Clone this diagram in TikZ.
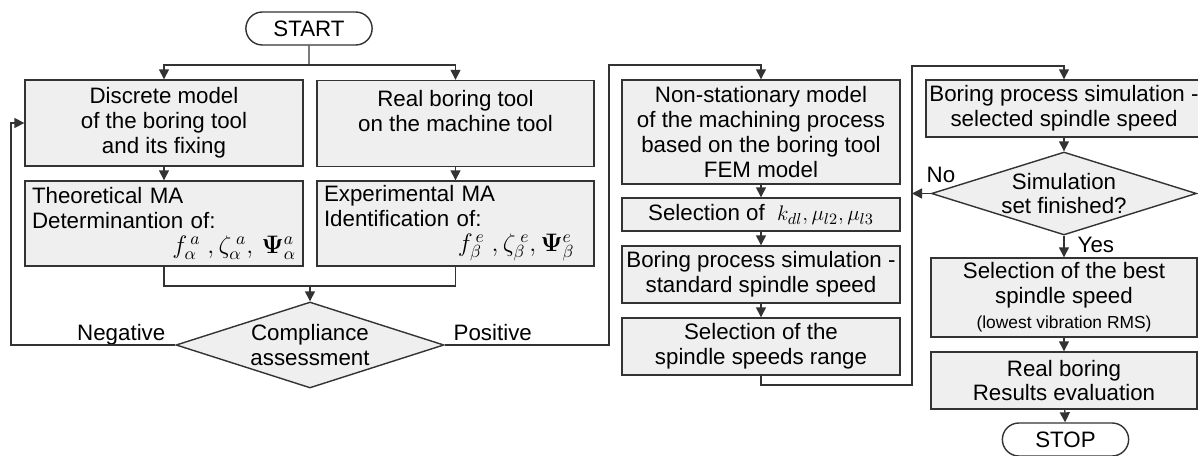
\documentclass[tikz,border=0pt]{standalone}
\usepackage[no-math]{fontspec}
\setmainfont{Liberation Sans}
\usetikzlibrary{arrows.meta,shapes.geometric,shapes.misc}
\definecolor{boxfill}{HTML}{EFEFEF}
\definecolor{linegray}{HTML}{333333}

\begin{document}
\begin{tikzpicture}[x=0.02cm,y=-0.02cm,linegray,line width=0.8pt,
	every node/.style={text=black,font=\fontsize{12.7}{14.2}\selectfont},
	block/.style={draw,fill=boxfill,rectangle,align=center,inner sep=2pt},
	decision/.style={draw,fill=boxfill,diamond,aspect=3.1,align=center,inner sep=-2pt},
	terminal/.style={draw,rounded rectangle,minimum width=2.76cm,minimum height=0.66cm},
	arr/.style={-{Triangle[width=0.2cm,length=0.2cm]}}]
	
	\useasboundingbox (0,0) rectangle (1198,456);
	
	% Start
	\node[terminal] (start) at (309,28.5) {START};
	
	% Model and experiment
	\node[block,minimum width=5.56cm,minimum height=1.72cm] (discrete) at (164,123)
	{Discrete model\\of the boring tool\\and its fixing};
	\node[block,minimum width=5.54cm,minimum height=1.72cm] (real) at (455.5,123.5)
	{Real boring tool\\on the machine tool\\~};
	\node[block,align=left,text width=5.28cm,inner xsep=0.14cm,minimum height=1.7cm] (theory) at (164,223.5)
	{Theoretical MA\\Determinantion of:\\\hspace*{\fill}{\fontsize{14.5}{14.2}\selectfont$f^{\,a}_{\alpha}\;,\zeta^{\;a}_{\alpha},\,\mathbf{\Psi}^{a}_{\alpha}$}};
	\node[block,align=left,text width=5.26cm,inner xsep=0.14cm,minimum height=1.7cm] (experiment) at (455.5,223.5)
	{Experimental MA\\Identification of:\\\hspace*{\fill}{\fontsize{14.5}{14.2}\selectfont$f^{\,e}_{\beta}\;,\zeta^{\;e}_{\beta},\mathbf{\Psi}^{e}_{\beta}$}\hspace*{0.25cm}};
	
	% Compliance check
	\node[decision,minimum width=5.36cm,minimum height=1.72cm] (comply) at (310,345)
	{Compliance\\assessment};
	\node[anchor=base east,inner sep=0pt] (neglabel) at (166,340) {Negative};
	\node[anchor=base west,inner sep=0pt] (poslabel) at (453,340) {Positive};
	
	% Simulation column
	\node[block,minimum width=5.56cm,minimum height=2.08cm] (nonstat) at (761,132)
	{Non-stationary model\\of the machining process\\based on the boring tool\\FEM model};
	\node[block,minimum width=5.56cm,minimum height=0.66cm] (coeff) at (761,214.5)
	{Selection of\ \ $k_{dl},\mu_{l2},\mu_{l3}$};
	\node[block,minimum width=5.56cm,minimum height=1.14cm] (stdsim) at (761,274.5)
	{Boring process simulation -\\standard spindle speed};
	\node[block,minimum width=5.56cm,minimum height=1.14cm] (range) at (761,346.5)
	{Selection of the\\spindle speeds range};
	
	% Spindle speed loop
	\node[block,minimum width=5.32cm,minimum height=1.14cm] (selsim) at (1064,108.5)
	{Boring process simulation -\\selected spindle speed};
	\node[decision,minimum width=5.3cm,minimum height=1.66cm] (finished) at (1064,193.5)
	{Simulation\\set finished?};
	\node[anchor=base west,inner sep=0pt] (nolabel) at (926,183) {No};
	\node[anchor=base west,inner sep=0pt] (yeslabel) at (1077,253) {Yes};
	\node[block,minimum width=5.32cm,minimum height=1.58cm] (best) at (1064,297.5)
	{Selection of the best\\spindle speed\\{\fontsize{9.9}{12}\selectfont (lowest vibration RMS)}};
	\node[block,minimum width=5.32cm,minimum height=1.14cm] (evaluate) at (1064,380.5)
	{Real boring\\Results evaluation};
	\node[terminal] (stop) at (1065.5,439.5) {STOP};
	
	% Connectors
	\coordinate (split) at (309,65);
	\draw (start) -- (split);
	\draw[arr] (split) -| (discrete);
	\draw[arr] (split) -| (real);
	\draw[arr] (discrete) -- (theory);
	\draw[arr] (real) -- (experiment);
	
	\coordinate (join) at (310,286);
	\draw (theory) |- (join);
	\draw (experiment) |- (join);
	\draw[arr] (join) -- (comply);
	
	\coordinate (negative) at (11,345);
	\draw[arr] (comply) -- (negative) |- (discrete);
	\coordinate (positive) at (609,65);
	\draw[arr] (comply) -| (positive) -| (nonstat);
	
	\draw[arr] (nonstat) -- (coeff);
	\draw[arr] (coeff) -- (stdsim);
	\draw[arr] (stdsim) -- (range);
	
	\coordinate (loopbot) at (912,385);
	\coordinate (looptop) at (912,66);
	\draw[arr] (range) |- (loopbot) -- (looptop) -| (selsim);
	\draw[arr] (selsim) -- (finished);
	\draw[arr] (finished) -- (finished -| loopbot);
	\draw[arr] (finished) -- (best);
	\draw[arr] (best) -- (evaluate);
	\draw[arr] (evaluate) -- (stop);
	
\end{tikzpicture}
\end{document}
